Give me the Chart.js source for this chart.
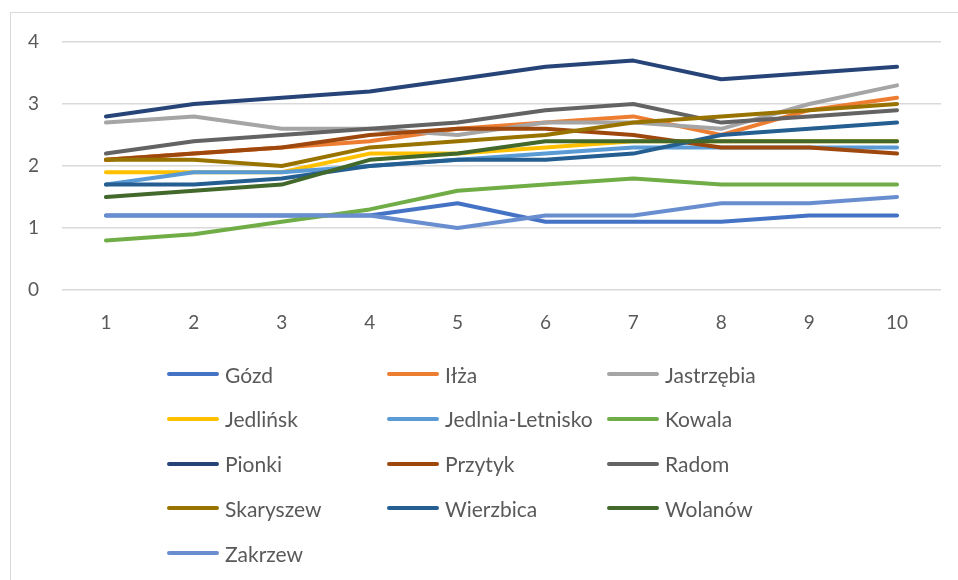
<!DOCTYPE html>
<html>
<head>
<meta charset="utf-8">
<script src="https://cdn.jsdelivr.net/npm/chart.js@4.4.0/dist/chart.umd.min.js"></script>
<style>
body { margin: 0; background: #fff; }
#wrap { position: relative; width: 958px; height: 580px; overflow: hidden; }
#frame { position: absolute; left: 10px; top: 12px; width: 1000px; height: 1000px; border: 1px solid #d9d9d9; }
#legend { position: absolute; left: 167px; top: 0; font-family: Lato, sans-serif; font-size: 21px; color: #595959; }
.item { position: absolute; display: flex; align-items: center; height: 24px; white-space: nowrap; }
.swatch { width: 52px; height: 4px; border-radius: 2px; margin-right: 6px; }
</style>
</head>
<body>
<div id="wrap">
  <canvas id="chart" width="958" height="580"></canvas>
  <div id="frame"></div>
  <div id="legend"></div>
</div>
<script>
// lata / kolejne pomiary
var labels = ['1', '2', '3', '4', '5', '6', '7', '8', '9', '10'];

var gozd = [1.2, 1.2, 1.2, 1.2, 1.4, 1.1, 1.1, 1.1, 1.2, 1.2];
var ilza = [2.1, 2.2, 2.3, 2.4, 2.6, 2.7, 2.8, 2.5, 2.9, 3.1];
var jastrzebia = [2.7, 2.8, 2.6, 2.6, 2.5, 2.7, 2.7, 2.6, 3.0, 3.3];
var jedlinsk = [1.9, 1.9, 1.9, 2.2, 2.2, 2.3, 2.4, 2.4, 2.4, 2.4];
var jedlnia = [1.7, 1.9, 1.9, 2.0, 2.1, 2.2, 2.3, 2.3, 2.3, 2.3];
var kowala = [0.8, 0.9, 1.1, 1.3, 1.6, 1.7, 1.8, 1.7, 1.7, 1.7];
var pionki = [2.8, 3.0, 3.1, 3.2, 3.4, 3.6, 3.7, 3.4, 3.5, 3.6];
var przytyk = [2.1, 2.2, 2.3, 2.5, 2.6, 2.6, 2.5, 2.3, 2.3, 2.2];
var radom = [2.2, 2.4, 2.5, 2.6, 2.7, 2.9, 3.0, 2.7, 2.8, 2.9];
var skaryszew = [2.1, 2.1, 2.0, 2.3, 2.4, 2.5, 2.7, 2.8, 2.9, 3.0];
var wierzbica = [1.7, 1.7, 1.8, 2.0, 2.1, 2.1, 2.2, 2.5, 2.6, 2.7];
var wolanow = [1.5, 1.6, 1.7, 2.1, 2.2, 2.4, 2.4, 2.4, 2.4, 2.4];
var zakrzew = [1.2, 1.2, 1.2, 1.2, 1.0, 1.2, 1.2, 1.4, 1.4, 1.5];

var names = ['Gózd', 'Iłża', 'Jastrzębia', 'Jedlińsk', 'Jedlnia-Letnisko', 'Kowala', 'Pionki',
             'Przytyk', 'Radom', 'Skaryszew', 'Wierzbica', 'Wolanów', 'Zakrzew'];
var series = [gozd, ilza, jastrzebia, jedlinsk, jedlnia, kowala, pionki,
              przytyk, radom, skaryszew, wierzbica, wolanow, zakrzew];
var colors = ['#4472C4', '#ED7D31', '#A5A5A5', '#FFC000', '#5B9BD5', '#70AD47', '#264478',
              '#9E480E', '#636363', '#997300', '#255E91', '#43682B', '#698ED0'];

Chart.defaults.font.family = 'Lato, sans-serif';
Chart.defaults.color = '#595959';

var datasets = names.map(function (name, i) {
    return {
        label: name,
        data: series[i],
        borderColor: colors[i],
        backgroundColor: colors[i],
        borderWidth: 4,
        borderCapStyle: 'round',
        borderJoinStyle: 'round',
        pointRadius: 0,
        fill: false,
        tension: 0,
        order: names.length - i // jak w Excelu: kolejna seria rysowana na wierzchu
    };
});

var ctx = document.getElementById('chart').getContext('2d');
var chart = new Chart(ctx, {
    type: 'line',
    data: { labels: labels, datasets: datasets },
    options: {
        responsive: false,
        animation: false,
        layout: { padding: { left: 0, top: 42, right: 17, bottom: 240 } },
        plugins: {
            legend: { display: false },
            tooltip: { enabled: false }
        },
        scales: {
            x: {
                offset: true,
                grid: { display: false, drawTicks: false },
                border: { display: false },
                ticks: { padding: 21, font: { size: 19 } },
                afterFit: function (scale) { scale.height = 50; }
            },
            y: {
                min: 0,
                max: 4,
                ticks: { stepSize: 1, padding: 23, font: { size: 19 } },
                grid: { color: '#d9d9d9', lineWidth: 1.5, drawTicks: false },
                border: { display: false },
                afterFit: function (scale) { scale.width = 62; }
            }
        }
    }
});

// legenda w trzech kolumnach
var legend = document.getElementById('legend');
names.forEach(function (name, i) {
    var item = document.createElement('div');
    item.className = 'item';
    item.style.left = ((i % 3) * 220) + 'px';
    item.style.top = (362 + Math.floor(i / 3) * 44.75) + 'px';
    var sw = document.createElement('span');
    sw.className = 'swatch';
    sw.style.background = colors[i];
    var txt = document.createElement('span');
    txt.textContent = name;
    item.appendChild(sw);
    item.appendChild(txt);
    legend.appendChild(item);
});
</script>
</body>
</html>
